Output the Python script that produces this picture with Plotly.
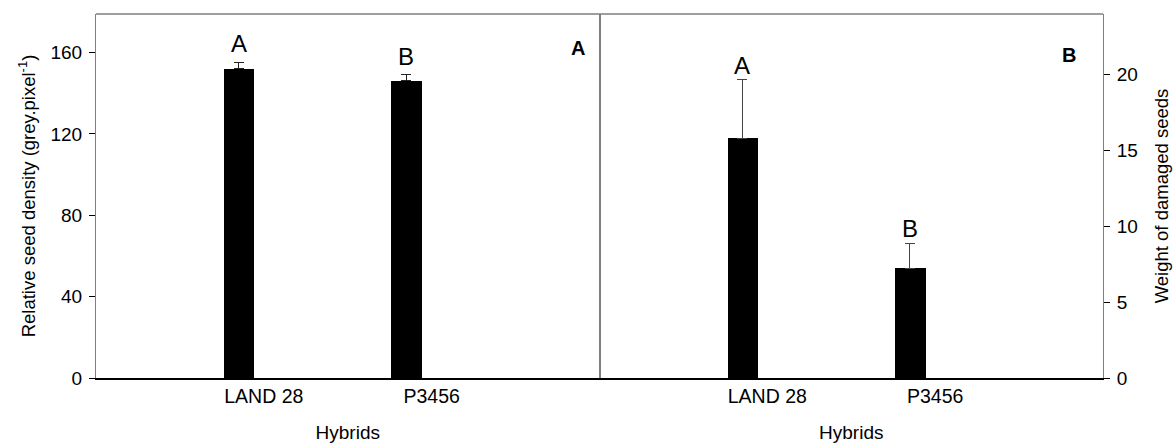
import plotly.graph_objects as go

# Hybrid categories and measured values (mean, standard error, group letter)
hybrids = ["LAND 28", "P3456"]
density_mean = [152.0, 146.2]
density_se = [3.3, 3.0]
density_groups = ["A", "B"]
damaged_mean = [15.8, 7.25]
damaged_se = [3.85, 1.65]
damaged_groups = ["A", "B"]

FONT = "Liberation Sans, Arial, sans-serif"
GREY = "#7f7f7f"
pos = list(range(len(hybrids)))
label_pos = [p + 0.15 for p in pos]

fig = go.Figure()

fig.add_trace(go.Bar(
    x=pos, y=density_mean, width=0.18, xaxis="x", yaxis="y",
    marker=dict(color="black", line=dict(width=0)),
    error_y=dict(type="data", array=density_se, arrayminus=[0] * len(pos),
                 symmetric=False, color="#222222", thickness=1, width=5),
    showlegend=False,
))
fig.add_trace(go.Bar(
    x=pos, y=damaged_mean, width=0.18, xaxis="x2", yaxis="y2",
    marker=dict(color="black", line=dict(width=0)),
    error_y=dict(type="data", array=damaged_se, arrayminus=[0] * len(pos),
                 symmetric=False, color="#444444", thickness=1, width=5),
    showlegend=False,
))

annotations = []
for p, m, s, g in zip(pos, density_mean, density_se, density_groups):
    annotations.append(dict(x=p, y=m + s, xref="x", yref="y", text=g,
                            showarrow=False, yanchor="bottom", yshift=3,
                            font=dict(family=FONT, size=24, color="black")))
for p, m, s, g in zip(pos, damaged_mean, damaged_se, damaged_groups):
    annotations.append(dict(x=p, y=m + s, xref="x2", yref="y2", text=g,
                            showarrow=False, yanchor="bottom", yshift=-1,
                            font=dict(family=FONT, size=24, color="black")))

# Panel letters
annotations.append(dict(x=0.4787, y=0.942, xref="paper", yref="paper", text="<b>A</b>",
                        showarrow=False, font=dict(family=FONT, size=20, color="black")))
annotations.append(dict(x=0.975, y=0.923, xref="paper", yref="paper", text="<b>B</b>",
                        showarrow=False, font=dict(family=FONT, size=20, color="black")))

xcommon = dict(range=[-0.85, 2.15], tickmode="array", tickvals=label_pos, ticktext=hybrids,
               ticks="", showline=True, linecolor="black", linewidth=1.5,
               showgrid=False, zeroline=False, automargin=False,
               tickfont=dict(family=FONT, size=19.5, color="black"),
               title=dict(text="Hybrids", font=dict(family=FONT, size=19, color="black"),
                          standoff=20))

fig.update_layout(
    width=1173, height=445,
    margin=dict(l=95.5, r=70.3, t=14, b=66.7),
    paper_bgcolor="white", plot_bgcolor="white",
    bargap=0,
    xaxis=dict(domain=[0, 0.5], anchor="y", **xcommon),
    xaxis2=dict(domain=[0.5, 1], anchor="y2", **xcommon),
    yaxis=dict(range=[0, 179], tickvals=[0, 40, 80, 120, 160], ticks="outside",
               ticklen=6, tickcolor="black", showline=True, linecolor=GREY,
               linewidth=1, mirror=True, showgrid=False, zeroline=False,
               ticklabelstandoff=3, automargin=False,
               tickfont=dict(family=FONT, size=19, color="black"),
               title=dict(text="Relative seed density (grey.pixel<sup>-1</sup>)",
                          font=dict(family=FONT, size=18.5, color="black"), standoff=10),
               anchor="x"),
    yaxis2=dict(range=[0, 24], tickvals=[0, 5, 10, 15, 20], ticks="outside",
                ticklen=6, tickcolor="black", showline=True, linecolor=GREY,
                linewidth=1, mirror=True, showgrid=False, zeroline=False,
                side="right", anchor="x2", ticklabelstandoff=3, automargin=False,
                tickfont=dict(family=FONT, size=19, color="black"),
                title=dict(text="Weight of damaged seeds",
                           font=dict(family=FONT, size=18.5, color="black"), standoff=18)),
    annotations=annotations,
    shapes=[dict(type="line", xref="paper", yref="paper", x0=0, x1=1, y0=1, y1=1,
                 line=dict(color=GREY, width=1.5))],
)

fig.write_html("out.html")
